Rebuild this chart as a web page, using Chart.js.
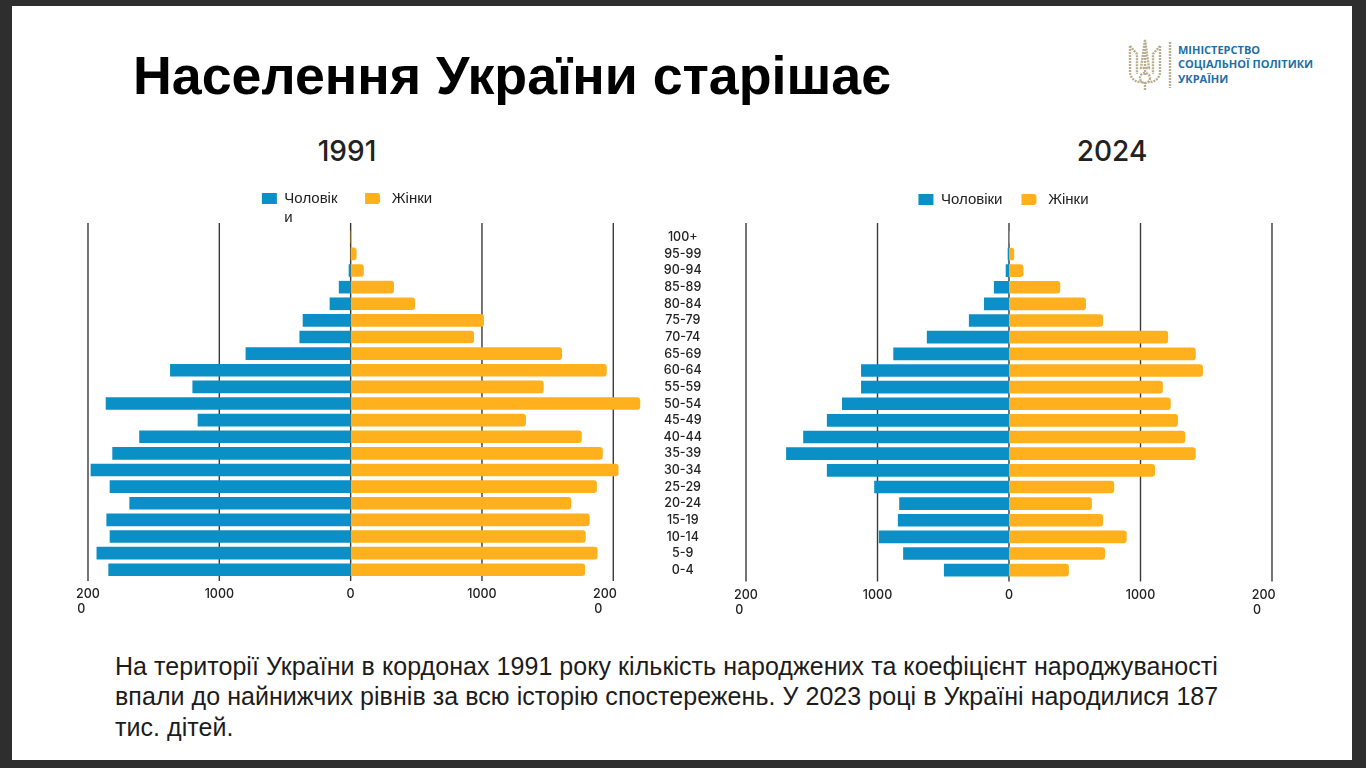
<!DOCTYPE html>
<html lang="uk">
<head>
<meta charset="utf-8">
<title>Населення України старішає</title>
<script src="https://cdn.jsdelivr.net/npm/chart.js@4/dist/chart.umd.min.js"></script>
<style>
html, body { margin: 0; padding: 0; width: 1366px; height: 768px; overflow: hidden; background: #2e2e2e; }
#slide { position: absolute; left: 12px; top: 6px; width: 1340px; height: 754px; background: #fff; }
.abs { position: absolute; white-space: nowrap; }
#title { left: 133px; top: 40px; font: bold 53.75px/70px "Liberation Sans", sans-serif; color: #000; }
.year { top: 131px; font: 500 28px/40px Inter, sans-serif; color: #222; transform: translateX(-50%); }
#note { left: 115px; top: 650.5px; font: 25px/30.5px "Liberation Sans", sans-serif; letter-spacing: 0.055px; color: #1c1c1c; }
#org { left: 1178px; top: 43px; font: bold 11px/14.3px "Open Sans", sans-serif; color: #1d6fa5; }
canvas { position: absolute; }
#logo { left: 1126px; top: 38px; }
</style>
</head>
<body>
<div id="slide"></div>
<div class="abs" id="title">Населення України старішає</div>
<svg class="abs" id="logo" width="50" height="54" viewBox="0 0 50 54" fill="none" stroke="#b8ad8e" stroke-width="2.4" stroke-dasharray="2 1">
  <path d="M19 2v36M4 8v26c0 6 6 11 12 10M34 8v26c0 6-6 11-12 10M4 8l7 8v20M34 8l-7 8v20M19 2l-4 28h8z"/>
  <circle cx="19" cy="40" r="5"/>
  <path d="M19 44v8M44 4v46"/>
</svg>
<div class="abs" id="org">МІНІСТЕРСТВО<br>СОЦІАЛЬНОЇ ПОЛІТИКИ<br>УКРАЇНИ</div>
<div class="abs year" style="left:347px">1991</div>
<div class="abs year" style="left:1112px">2024</div>
<canvas id="chart1991" width="614" height="442" style="left:40px;top:176px"></canvas>
<canvas id="chart2024" width="700" height="449" style="left:655px;top:173px"></canvas>
<div class="abs" id="note">На території України в кордонах 1991 року кількість народжених та коефіцієнт народжуваності<br>впали до найнижчих рівнів за всю історію спостережень. У 2023 році в Україні народилися 187<br>тис. дітей.</div>
<script>
const ageGroups = ['100+', '95-99', '90-94', '85-89', '80-84', '75-79', '70-74', '65-69', '60-64', '55-59', '50-54', '45-49', '40-44', '35-39', '30-34', '25-29', '20-24', '15-19', '10-14', '5-9', '0-4']

const men1991 = [0, 0, 15, 90, 160, 365, 390, 800, 1375, 1205, 1865, 1165, 1610, 1815, 1980, 1835, 1685, 1860, 1835, 1935, 1845]
const women1991 = [10, 45, 100, 330, 490, 1015, 940, 1610, 1950, 1470, 2205, 1335, 1760, 1920, 2040, 1875, 1680, 1820, 1790, 1880, 1785]
const men2024 = [0, 10, 25, 115, 190, 305, 625, 880, 1125, 1125, 1270, 1385, 1565, 1695, 1385, 1025, 835, 845, 990, 805, 495]
const women2024 = [5, 40, 110, 390, 585, 715, 1210, 1420, 1475, 1170, 1230, 1285, 1340, 1420, 1110, 800, 630, 715, 895, 730, 455]

const axisTicks = [-2000, -1000, 0, 1000, 2000]
const blue = '#0a8fc6'
const orange = '#feb01d'
const tickFont = { family: 'Inter', size: 12.5, weight: '500' }

// gridlines run a little past the plot, the library's grid can't do that
const longGrid = {
    id: 'longGrid',
    beforeDatasetsDraw(chart) {
        const c = chart.ctx, x = chart.scales.x, area = chart.chartArea
        c.save()
        c.strokeStyle = '#3a3a3a'
        c.lineWidth = 1.4
        axisTicks.forEach(v => {
            const px = x.getPixelForValue(v)
            c.beginPath()
            c.moveTo(px, area.top - 6)
            c.lineTo(px, area.bottom + 3)
            c.stroke()
        })
        c.restore()
    }
}

// legend height and x position are pinned so both plots line up
const fixedLegend = {
    id: 'fixedLegend',
    beforeInit(chart) {
        const fit = chart.legend.fit
        chart.legend.fit = function () {
            fit.call(this)
            this.height = chart.options.plugins.fixedLegend.height
        }
    },
    afterLayout(chart) {
        const shift = chart.options.plugins.fixedLegend.shift
        chart.legend.left += shift
        chart.legend.right += shift
    }
}

function makePyramid(id, men, women, menLabel, maxValue, showAges, padding, legendGap, legendHeight, legendShift) {
    new Chart(document.querySelector(id), {
        type: 'bar',
        plugins: [longGrid, fixedLegend],
        data: {
            labels: ageGroups,
            datasets: [
                { label: menLabel, data: men.map(v => -v), backgroundColor: blue, borderRadius: 0 },
                { label: '\u00a0Жінки', data: women, backgroundColor: orange, borderRadius: { topRight: 3, bottomRight: 3, topLeft: 0, bottomLeft: 0 }, borderSkipped: false }
            ]
        },
        options: {
            indexAxis: 'y',
            responsive: false,
            animation: false,
            layout: { padding: padding },
            datasets: { bar: { categoryPercentage: 1, barPercentage: 0.76 } },
            plugins: {
                tooltip: { enabled: false },
                fixedLegend: { height: legendHeight, shift: legendShift },
                legend: {
                    position: 'top',
                    onClick: null,
                    labels: {
                        boxWidth: 15,
                        boxHeight: 11,
                        useBorderRadius: true,
                        color: '#222',
                        padding: legendGap,
                        font: { family: 'Liberation Sans', size: 15, lineHeight: 1.27 }
                    }
                }
            },
            scales: {
                x: {
                    stacked: true,
                    min: -2000,
                    max: maxValue,
                    grid: { display: false },
                    border: { display: false },
                    afterBuildTicks: s => { s.ticks = axisTicks.map(v => ({ value: v })) },
                    ticks: {
                        autoSkip: false,
                        maxRotation: 0,
                        padding: 1,
                        color: '#222',
                        font: tickFont,
                        callback: v => {
                            if (v === -2000) return ['200', '0\u00a0\u00a0\u00a0\u00a0']
                            if (v === 2000) return ['200\u00a0\u00a0\u00a0\u00a0\u00a0', '0\u00a0\u00a0\u00a0\u00a0\u00a0\u00a0\u00a0\u00a0\u00a0']
                            return String(Math.abs(v))
                        }
                    }
                },
                y: {
                    stacked: true,
                    grid: { display: false },
                    border: { display: false },
                    afterFit: s => { if (showAges) s.width = 91 },
                    ticks: {
                        display: showAges,
                        autoSkip: false,
                        padding: 36,
                        crossAlign: 'center',
                        color: '#222',
                        font: tickFont
                    }
                }
            }
        }
    })
}

makePyramid('#chart1991', men1991, women1991, ['Чоловік', 'и'], 2310, false, { left: 40, right: 0, top: 0, bottom: 0 }, 15, 53, -20)
makePyramid('#chart2024', men2024, women2024, 'Чоловіки', 2000, true, { left: 0, right: 83, top: 0, bottom: 0 }, 19, 56, 40)
</script>
</body>
</html>
